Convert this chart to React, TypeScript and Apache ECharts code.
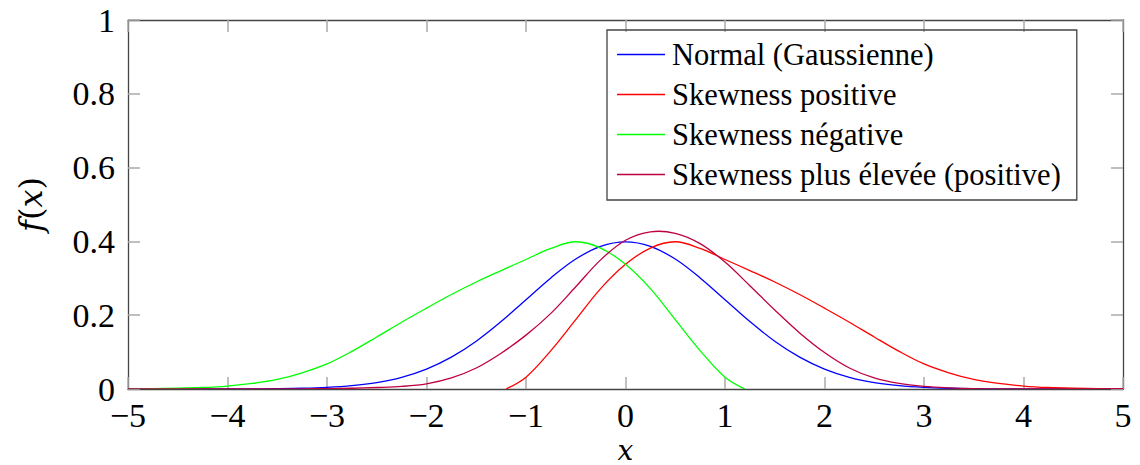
import React, { useEffect, useRef } from "react";
import * as echarts from "echarts";

// x grid for the full-range curves (step 0.25 from -5 to 5)
const X_FULL = [
  -5, -4.75, -4.5, -4.25, -4, -3.75, -3.5, -3.25, -3, -2.75, -2.5, -2.25, -2, -1.75, -1.5, -1.25, -1,
  -0.75, -0.5, -0.25, 0, 0.25, 0.5, 0.75, 1, 1.25, 1.5, 1.75, 2, 2.25, 2.5, 2.75, 3, 3.25, 3.5, 3.75,
  4, 4.25, 4.5, 4.75, 5,
];
const NORMAL = [
  0, 0, 0, 0.0001, 0.0001, 0.0004, 0.0009, 0.002, 0.0044, 0.0091, 0.0175, 0.0317, 0.054, 0.0863,
  0.1295, 0.1826, 0.242, 0.3011, 0.3521, 0.3867, 0.3989, 0.3867, 0.3521, 0.3011, 0.242, 0.1826,
  0.1295, 0.0863, 0.054, 0.0317, 0.0175, 0.0091, 0.0044, 0.002, 0.0009, 0.0004, 0.0001, 0.0001, 0, 0, 0,
];
const HIGH_SKEW = [
  0, 0, 0, 0, 0, 0, 0.0003, 0.0006, 0.001, 0.002, 0.004, 0.007, 0.014, 0.03, 0.057, 0.097, 0.146,
  0.205, 0.277, 0.35, 0.403, 0.426, 0.422, 0.394, 0.344, 0.28, 0.214, 0.152, 0.099, 0.057, 0.03,
  0.015, 0.007, 0.003, 0.001, 0.0005, 0.0002, 0, 0, 0, 0,
];
// positive skew curve starts at x = -1.2
const X_POS = [
  -1.2, -1, -0.75, -0.5, -0.25, 0, 0.25, 0.5, 0.75, 1, 1.25, 1.5, 1.75, 2, 2.25, 2.5, 2.75, 3, 3.25,
  3.5, 3.75, 4, 4.25, 4.5, 4.75, 5,
];
const POS_SKEW = [
  0, 0.032, 0.104, 0.188, 0.272, 0.338, 0.382, 0.399, 0.381, 0.351, 0.321, 0.29, 0.256, 0.219, 0.181,
  0.141, 0.102, 0.068, 0.044, 0.026, 0.015, 0.008, 0.004, 0.002, 0.001, 0,
];
// negative skew curve ends at x = 1.2
const X_NEG = [
  -5, -4.75, -4.5, -4.25, -4, -3.75, -3.5, -3.25, -3, -2.75, -2.5, -2.25, -2, -1.75, -1.5, -1.25, -1,
  -0.75, -0.5, -0.25, 0, 0.25, 0.5, 0.75, 1, 1.2,
];
const NEG_SKEW = [
  0, 0.001, 0.002, 0.004, 0.008, 0.015, 0.026, 0.044, 0.068, 0.102, 0.141, 0.181, 0.219, 0.256, 0.29,
  0.321, 0.351, 0.381, 0.399, 0.382, 0.338, 0.272, 0.188, 0.104, 0.032, 0,
];

const SERIES_NAMES = [
  "Normal (Gaussienne)",
  "Skewness positive",
  "Skewness négative",
  "Skewness plus élevée (positive)",
];
const COLORS = ["#0000ff", "#ff0000", "#00ff00", "#bf0040"];

const X_MIN = -5;
const X_MAX = 5;
const Y_MIN = 0;
const Y_MAX = 1;

const zip = (xs: number[], ys: number[]) => xs.map((x, i) => [x, ys[i]]);

const TICK_FONT = "'Liberation Serif', serif";
const LEGEND_FONT = "'Liberation Serif', serif";
const NAME_FONT = "'DejaVu Serif', serif";

export default function App() {
  const ref = useRef<HTMLDivElement>(null);
  useEffect(() => {
    if (!ref.current) return;
    const chart = echarts.init(ref.current, undefined, { renderer: "svg" });
    const fmt = (v: number) => (v < 0 ? "\u2212" + Math.abs(v) : String(v));
    const tickStyle = { show: true, inside: true, length: 12, lineStyle: { color: "#aaaaaa", width: 1.5 } };
    const lineStyle = { show: true, onZero: false, lineStyle: { color: "#444444", width: 1.3 } };
    const yNameRich = {
      i: { fontFamily: NAME_FONT, fontStyle: "italic", fontSize: 32, color: "#000", lineHeight: 22 },
      u: { fontFamily: NAME_FONT, fontSize: 32, color: "#000", lineHeight: 22 },
    };
    const xNameRich = {
      i: { fontFamily: NAME_FONT, fontStyle: "italic", fontSize: 28, color: "#000", lineHeight: 20 },
    };
    const datasets = [
      zip(X_FULL, NORMAL),
      zip(X_POS, POS_SKEW),
      zip(X_NEG, NEG_SKEW),
      zip(X_FULL, HIGH_SKEW),
    ];
    const makeRender = (idx: number) => (params: any, api: any) => {
      if (params.dataIndex !== 0) return null;
      const pts = datasets[idx].map((p) => api.coord(p));
      return {
        type: "polyline",
        shape: { points: pts, smooth: 0.35 },
        style: { stroke: COLORS[idx], lineWidth: 1.3, fill: "none" },
        silent: true,
      };
    };
    chart.setOption({
      animation: false,
      grid: {
        left: 128,
        right: 17,
        top: 20,
        bottom: 76,
        containLabel: false,
        outerBoundsMode: "none",
      },
      legend: {
        orient: "vertical",
        left: 607,
        top: 30,
        icon: "rect",
        itemWidth: 48,
        itemHeight: 1.4,
        itemGap: 9,
        padding: [9, 16, 10, 10],
        borderColor: "#444444",
        borderWidth: 1.3,
        selectedMode: false,
        data: SERIES_NAMES,
        textStyle: { fontFamily: LEGEND_FONT, fontSize: 30.5, color: "#000", lineHeight: 30, padding: [0, 0, 0, 2] },
      },
      xAxis: [
        {
          type: "value",
          min: X_MIN,
          max: X_MAX,
          interval: 1,
          position: "bottom",
          name: "{i|x}",
          nameLocation: "middle",
          nameGap: 47,
          nameTextStyle: { rich: xNameRich },
          axisLine: lineStyle,
          axisTick: tickStyle,
          splitLine: { show: false },
          axisLabel: { fontFamily: TICK_FONT, fontSize: 34, color: "#000", margin: 9, formatter: fmt },
        },
        {
          type: "value",
          min: X_MIN,
          max: X_MAX,
          interval: 1,
          position: "top",
          axisLine: lineStyle,
          axisTick: tickStyle,
          splitLine: { show: false },
          axisLabel: { show: false },
        },
      ],
      yAxis: [
        {
          type: "value",
          min: Y_MIN,
          max: Y_MAX,
          interval: 0.2,
          position: "left",
          name: "{i|f}{u|(}{i|x}{u|)}",
          nameLocation: "middle",
          nameGap: 86,
          nameTextStyle: { rich: yNameRich },
          axisLine: lineStyle,
          axisTick: tickStyle,
          splitLine: { show: false },
          axisLabel: { fontFamily: TICK_FONT, fontSize: 34, color: "#000", margin: 13, formatter: fmt },
        },
        {
          type: "value",
          min: Y_MIN,
          max: Y_MAX,
          interval: 0.2,
          position: "right",
          axisLine: lineStyle,
          axisTick: tickStyle,
          splitLine: { show: false },
          axisLabel: { show: false },
        },
      ],
      series: SERIES_NAMES.map((name, i) => ({
        name,
        type: "custom",
        data: datasets[i],
        encode: { x: 0, y: 1 },
        renderItem: makeRender(i),
        clip: true,
        itemStyle: { color: COLORS[i] },
      })),
    });
    return () => chart.dispose();
  }, []);
  return (
    <div
      ref={ref}
      style={{ position: "absolute", left: 0, top: 0, width: 1140, height: 465, background: "#fff" }}
    />
  );
}
